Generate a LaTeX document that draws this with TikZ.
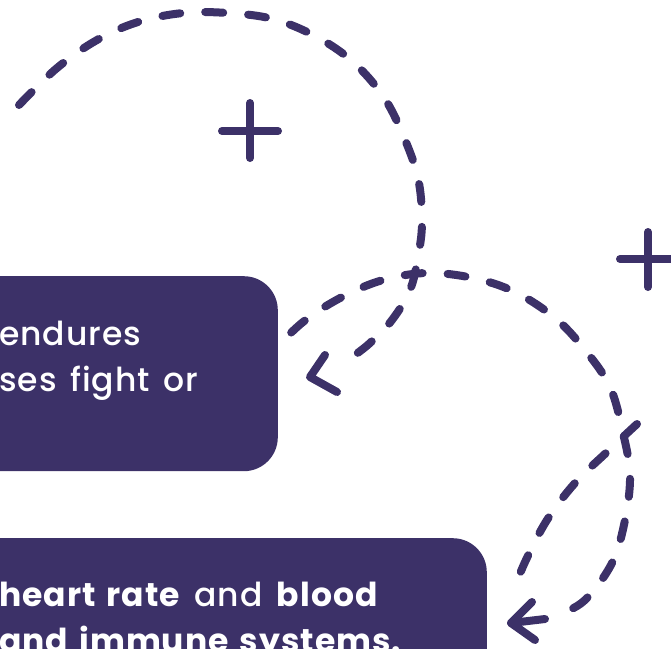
\documentclass[tikz,border=0pt]{standalone}
\usepackage{fontspec}
\setmainfont{Poppins}[UprightFont={* Medium}, BoldFont={* Bold}, LetterSpace=3, WordSpace=1.4]
\definecolor{plum}{RGB}{60,49,104}
\tikzset{
  trail/.style={draw=plum, line width=8pt, line cap=round, dash pattern=on 18pt off 25pt},
  tipbarb/.style={draw=plum, line width=8pt, line cap=round, line join=round},
  plusmark/.style={draw=plum, line width=8pt, line cap=round},
  panel/.style={fill=plum, rounded corners=34pt, inner sep=0pt},
  panel text/.style={text=white, inner sep=0pt, anchor=base west, font=\fontsize{33}{45}\selectfont},
}

\begin{document}
\begin{tikzpicture}[x=1pt,y=-1pt]
  %%%%% START %%%%%
  \clip (0,0) rectangle (671,648);

  % end points of the loops
  \coordinate (topA) at (19,105);
  \coordinate (tipA) at (310,377);
  \coordinate (tipB) at (511,623);
  \coordinate (topC) at (637,424);

  % plus marks
  \draw[plusmark] (222,131) -- (278,131);
  \draw[plusmark] (250,103) -- (250,158);
  \draw[plusmark] (620,259) -- (676,259);
  \draw[plusmark] (648,232) -- (648,287);

  % big loop round the first plus
  \draw[trail] plot[smooth, tension=0.6] coordinates {(topA) (57,68) (97,40) (138,22) (183,13) (228,13)
    (273,19) (315,36) (352,61) (383,96) (403,135) (418,178) (422,222) (418,257) (410,290) (392,320) (370,343) (352,357)};
  \draw[tipbarb] (tipA) ++(15,-22) -- (tipA) -- ++(27,15);

  % loop from the first panel down to the second
  \draw[trail, dash phase=10pt] plot[smooth, tension=0.6] coordinates {(268,356) (303,322) (342,297) (383,280) (427,273) (473,278)
    (515,292) (555,318) (585,350) (610,387) (623,433) (630,475) (625,520) (612,563) (585,600) (560,614)};
  \draw[tipbarb] (tipB) ++(21,-21) -- (tipB) -- ++(24,17);
  \draw[tipbarb] (tipB) -- ++(34,-4);

  % loop coming in from the right
  \draw[trail] plot[smooth, tension=0.6] coordinates {(topC) (607,452) (575,483) (547,520) (525,562) (514,590)};

  % panels
  \node[panel, anchor=north east, minimum width=400pt, minimum height=195pt] (ease) at (278,276) {};
  \node[panel, anchor=north east, minimum width=560pt, minimum height=170pt] (calm) at (487,538) {};

  \node[panel text] (easeA) at (-1,345) {endures};
  \node[panel text] (easeB) at (-1,391) {ses fight or};
  \node[panel text] (calmA) at (-1,606) {\textbf{heart rate} and \textbf{blood}};
  \node[panel text] (calmB) at (-1,652) {\textbf{and immune systems.}};
  %%%%% END %%%%%
\end{tikzpicture}
\end{document}
